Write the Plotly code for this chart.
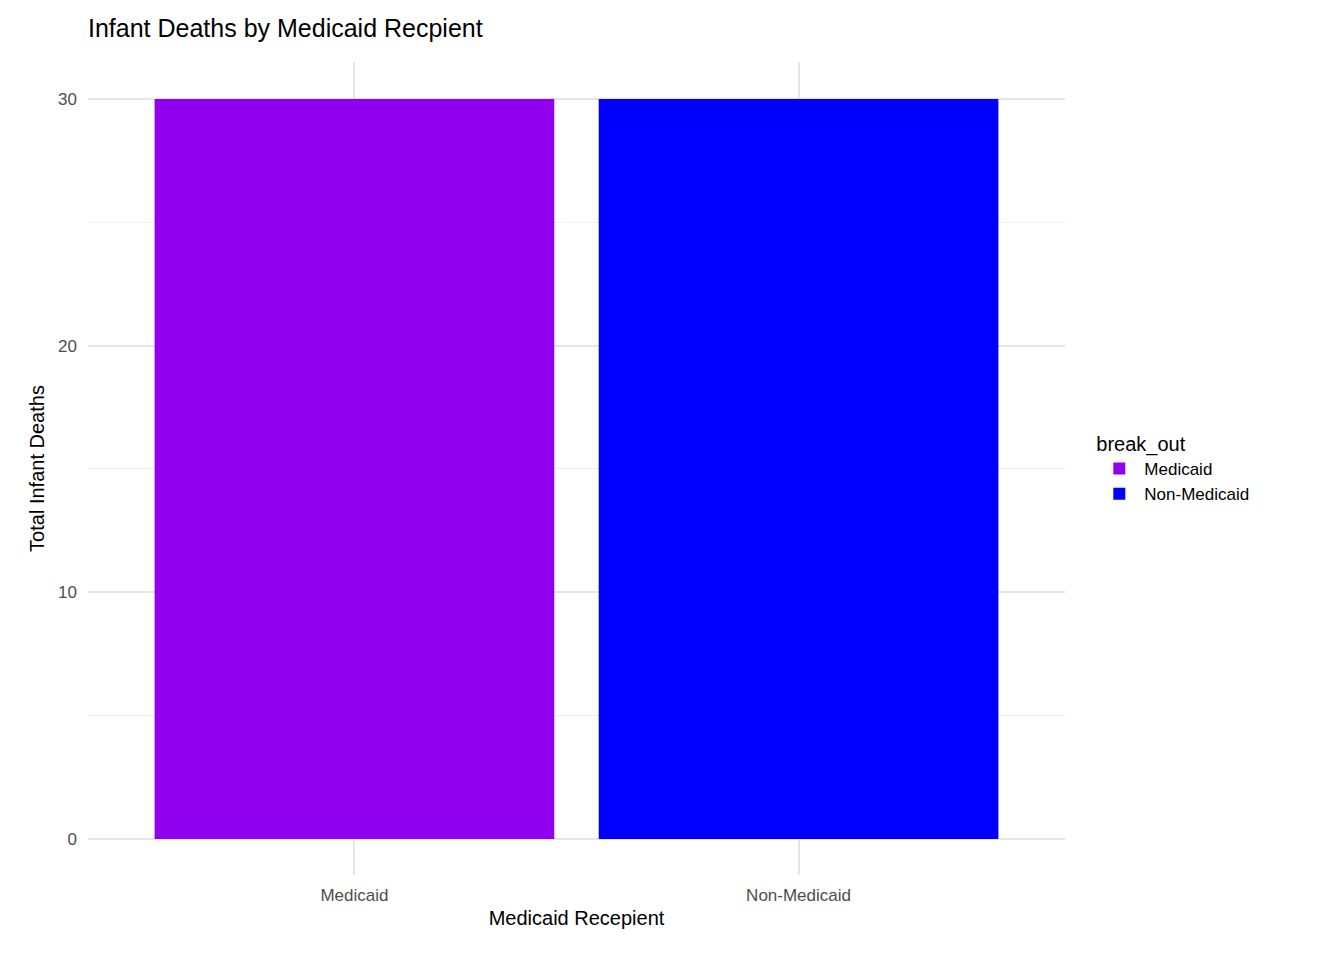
import plotly.graph_objects as go

categories = ["Medicaid", "Non-Medicaid"]
deaths = [30, 30]
colors = ["#9000EE", "#0000FF"]

fig = go.Figure()
for cat, val, col in zip(categories, deaths, colors):
    fig.add_trace(go.Bar(x=[cat], y=[val], name=cat, marker={"color": col, "line": {"width": 0}},
                         width=0.9))

# page has an 8px body margin, so size the figure to fit inside it
fig.update_layout(
    width=1328, height=944,
    plot_bgcolor="white", paper_bgcolor="white",
    font={"family": "Liberation Sans, Arial, sans-serif", "color": "black"},
    title={"text": "Infant Deaths by Medicaid Recpient", "x": 80 / 1328, "xanchor": "left",
           "y": 1 - 20 / 944, "yanchor": "middle", "font": {"size": 25}},
    margin={"l": 80, "r": 271, "t": 54, "b": 77},
    legend={"title": {"text": "break_out", "font": {"size": 20}}, "x": 1.03, "y": 0.5,
            "yanchor": "middle", "font": {"size": 17}, "itemwidth": 40, "tracegroupgap": 20},
    xaxis={"title": {"text": "Medicaid Recepient", "font": {"size": 20}, "standoff": 6},
           "range": [-0.6, 1.6], "showgrid": True, "gridcolor": "#e5e5e5", "gridwidth": 2,
           "tickfont": {"size": 17, "color": "#4d4d4d"}, "zeroline": False,
           "ticklabelstandoff": 8},
    yaxis={"title": {"text": "Total Infant Deaths", "font": {"size": 20}, "standoff": 8},
           "range": [-1.46, 31.5], "tickvals": [0, 10, 20, 30], "gridcolor": "#e5e5e5",
           "gridwidth": 2, "zeroline": False, "tickfont": {"size": 17, "color": "#4d4d4d"},
           "ticklabelstandoff": 10,
           "minor": {"tickvals": [5, 15, 25], "showgrid": True, "gridcolor": "#efefef", "gridwidth": 1}},
    bargap=0.1,
)

fig.write_html("out.html")
